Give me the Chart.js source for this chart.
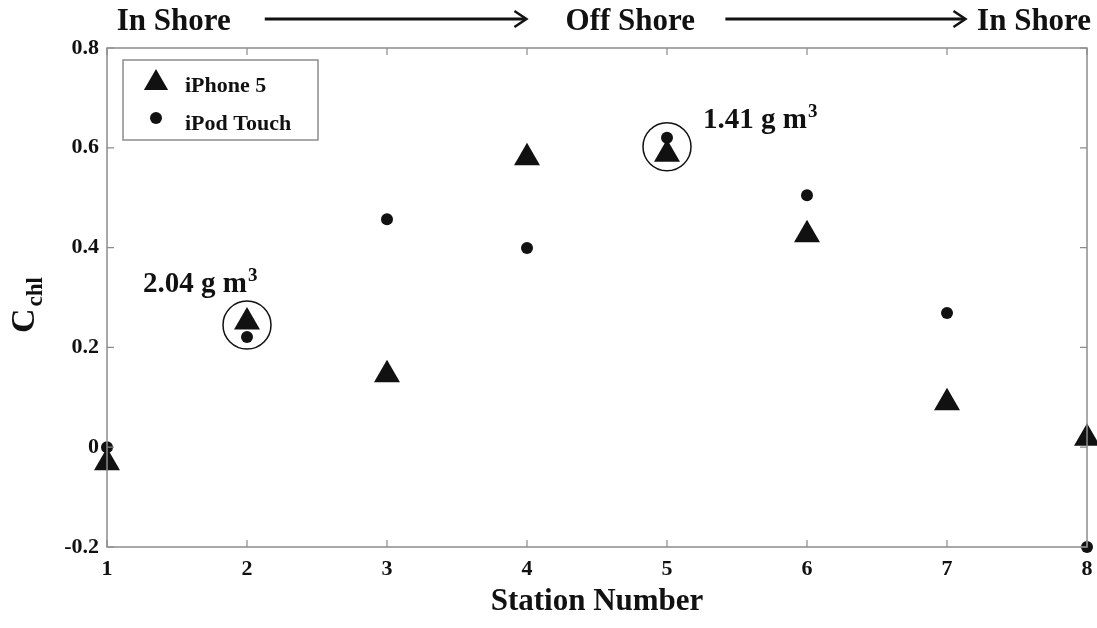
<!DOCTYPE html>
<html>
<head>
<meta charset="utf-8">
<script src="https://cdn.jsdelivr.net/npm/chart.js@4/dist/chart.umd.min.js"></script>
<style>
  html, body { margin: 0; padding: 0; background: #fff; }
  #wrap { width: 1097px; height: 628px; position: relative; }
</style>
</head>
<body>
<div id="wrap"><canvas id="c" width="1097" height="628"></canvas></div>
<script>
// Station numbers along the transect
const stations = [1, 2, 3, 4, 5, 6, 7, 8];
// Chlorophyll concentration estimated with each device
const iphone5 = [-0.031, 0.251, 0.145, 0.58, 0.587, 0.426, 0.089, 0.018];
const ipodTouch = [0, 0.221, 0.457, 0.399, 0.62, 0.505, 0.269, -0.2];
// Highlighted stations and their reference concentrations
const markStations = [2, 5];
const markValues = [0.245, 0.602];
const markLabels = ['2.04 g m', '1.41 g m'];
// Axis ticks
const xTicks = [1, 2, 3, 4, 5, 6, 7, 8];
const yTicks = [-0.2, 0, 0.2, 0.4, 0.6, 0.8];
// Header along the top
const headerLabels = ['In Shore', 'Off Shore', 'In Shore'];

const SERIF = '"Liberation Serif", "Times New Roman", serif';
const AXIS_GREY = '#8c8c8c';
const INK = '#111';

const toXY = (xs, ys) => xs.map((x, i) => ({ x, y: ys[i] }));

const framePlugin = {
  id: 'frame',
  beforeDraw(chart) {
    const { ctx } = chart;
    ctx.save();
    ctx.fillStyle = '#fff';
    ctx.fillRect(0, 0, chart.width, chart.height);
    ctx.restore();
  },
  afterDatasetsDraw(chart) {
    const { ctx, chartArea: a, scales } = chart;
    const xs = scales.x, ys = scales.y;
    ctx.save();
    // box around the plot
    ctx.strokeStyle = AXIS_GREY;
    ctx.lineWidth = 1.5;
    ctx.strokeRect(a.left, a.top, a.right - a.left, a.bottom - a.top);
    // inward tick marks on all four sides
    const tl = 7;
    ctx.beginPath();
    xTicks.forEach(v => {
      const px = xs.getPixelForValue(v);
      ctx.moveTo(px, a.bottom); ctx.lineTo(px, a.bottom - tl);
      ctx.moveTo(px, a.top); ctx.lineTo(px, a.top + tl);
    });
    yTicks.forEach(v => {
      const py = ys.getPixelForValue(v);
      ctx.moveTo(a.left, py); ctx.lineTo(a.left + tl, py);
      ctx.moveTo(a.right, py); ctx.lineTo(a.right - tl, py);
    });
    ctx.lineWidth = 1.2;
    ctx.stroke();
    ctx.restore();
  },
  afterDraw(chart) {
    const { ctx, chartArea: a, scales } = chart;
    const xs = scales.x, ys = scales.y;
    const W = a.right - a.left;
    ctx.save();
    ctx.fillStyle = INK;
    ctx.strokeStyle = INK;

    // header: In Shore -> Off Shore -> In Shore
    ctx.font = 'bold 31px ' + SERIF;
    ctx.textBaseline = 'alphabetic';
    ctx.textAlign = 'center';
    const hx = [a.left + W * 0.068, a.left + W * 0.534, a.left + W * 0.946];
    headerLabels.forEach((t, i) => ctx.fillText(t, hx[i], 30));
    const arrows = [[a.left + W * 0.161, a.left + W * 0.428], [a.left + W * 0.631, a.left + W * 0.876]];
    arrows.forEach(([x0, x1]) => {
      const y = 19;
      ctx.lineWidth = 3;
      ctx.beginPath();
      ctx.moveTo(x0, y); ctx.lineTo(x1 - 2, y);
      ctx.stroke();
      ctx.lineWidth = 2.5;
      ctx.beginPath();
      ctx.moveTo(x1 - 12, y - 8); ctx.lineTo(x1, y); ctx.lineTo(x1 - 12, y + 8);
      ctx.stroke();
    });

    // y-axis title C_chl
    ctx.save();
    ctx.translate(34, 333);
    ctx.rotate(-Math.PI / 2);
    ctx.textAlign = 'left';
    ctx.textBaseline = 'alphabetic';
    ctx.font = 'bold 34px ' + SERIF;
    ctx.fillText('C', 0, 0);
    const cw = ctx.measureText('C').width;
    ctx.font = 'bold 23px ' + SERIF;
    ctx.fillText('chl', cw + 2, 8);
    ctx.restore();

    // annotation text beside the highlighted stations
    const offs = [[-104, -33], [36, -19]];
    markStations.forEach((s, i) => {
      const px = xs.getPixelForValue(s), py = ys.getPixelForValue(markValues[i]);
      const tx = px + offs[i][0], ty = py + offs[i][1];
      ctx.textAlign = 'left';
      ctx.font = 'bold 29px ' + SERIF;
      ctx.fillText(markLabels[i], tx, ty);
      const w = ctx.measureText(markLabels[i]).width;
      ctx.font = 'bold 19px ' + SERIF;
      ctx.fillText('3', tx + w + 1, ty - 11);
    });

    // legend box
    const lx = a.left + 16, ly = a.top + 12, lw = 195, lh = 80;
    ctx.fillStyle = '#fff';
    ctx.fillRect(lx, ly, lw, lh);
    ctx.strokeStyle = AXIS_GREY;
    ctx.lineWidth = 1.5;
    ctx.strokeRect(lx, ly, lw, lh);
    const ds = chart.data.datasets;
    const rows = [{ d: ds[0], y: ly + 23 }, { d: ds[1], y: ly + 58 }];
    rows.forEach(r => {
      ctx.fillStyle = INK;
      ctx.strokeStyle = INK;
      Chart.helpers.drawPoint(ctx, {
        pointStyle: r.d.pointStyle,
        radius: r.d.pointStyle === 'triangle' ? 14 : r.d.pointRadius,
        borderWidth: 0, rotation: 0
      }, lx + 33, r.y);
    });
    ctx.fillStyle = INK;
    ctx.font = 'bold 22px ' + SERIF;
    ctx.textAlign = 'left';
    ctx.textBaseline = 'alphabetic';
    ctx.fillText(ds[0].label, lx + 62, ly + 32);
    ctx.fillText(ds[1].label, lx + 62, ly + 70);
    ctx.restore();
  }
};

new Chart(document.getElementById('c'), {
  type: 'scatter',
  data: {
    datasets: [
      {
        label: 'iPhone 5',
        data: toXY(stations, iphone5),
        pointStyle: 'triangle',
        pointRadius: 15,
        backgroundColor: INK,
        borderColor: INK,
        borderWidth: 0,
        clip: false
      },
      {
        label: 'iPod Touch',
        data: toXY(stations, ipodTouch),
        pointStyle: 'circle',
        pointRadius: 6,
        backgroundColor: INK,
        borderColor: INK,
        borderWidth: 0,
        clip: false
      },
      {
        label: 'highlight',
        data: toXY(markStations, markValues),
        pointStyle: 'circle',
        pointRadius: 24,
        backgroundColor: 'rgba(0,0,0,0)',
        borderColor: INK,
        borderWidth: 1.5,
        clip: false
      }
    ]
  },
  options: {
    responsive: false,
    animation: false,
    events: [],
    layout: { autoPadding: false, padding: { top: 48, right: 10, left: 0, bottom: 0 } },
    plugins: { legend: { display: false }, tooltip: { enabled: false } },
    scales: {
      x: {
        type: 'linear', min: 1, max: 8,
        afterBuildTicks(s) { s.ticks = xTicks.map(v => ({ value: v })); },
        afterFit(s) { s.height = 81; s.paddingLeft = 0; s.paddingRight = 0; },
        grid: { display: false, drawTicks: false },
        border: { display: false },
        ticks: {
          padding: 9, color: INK, maxRotation: 0,
          font: { family: SERIF, size: 22, weight: 'bold' },
          callback: v => String(v)
        },
        title: {
          display: true, text: 'Station Number', color: INK,
          font: { family: SERIF, size: 31, weight: 'bold' },
          padding: { top: 0, bottom: 7 }
        }
      },
      y: {
        type: 'linear', min: -0.2, max: 0.8,
        afterBuildTicks(s) { s.ticks = yTicks.map(v => ({ value: v })); },
        afterFit(s) { s.width = 107; s.paddingTop = 0; s.paddingBottom = 0; },
        grid: { display: false, drawTicks: false },
        border: { display: false },
        ticks: {
          padding: 8, color: INK,
          font: { family: SERIF, size: 22, weight: 'bold' },
          callback: v => (Math.abs(v) < 1e-9 ? '0' : v.toFixed(1))
        }
      }
    }
  },
  plugins: [framePlugin]
});
</script>
</body>
</html>
